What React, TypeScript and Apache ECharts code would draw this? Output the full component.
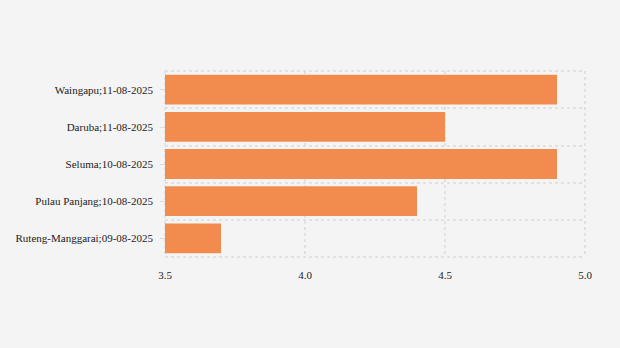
import React, { useEffect, useRef } from "react";
import * as echarts from "echarts";

const categories = [
  "Ruteng-Manggarai;09-08-2025",
  "Pulau Panjang;10-08-2025",
  "Seluma;10-08-2025",
  "Daruba;11-08-2025",
  "Waingapu;11-08-2025",
];
const values = [3.7, 4.4, 4.9, 4.5, 4.9];

const FONT = "'Liberation Serif', 'Times New Roman', 'DejaVu Serif', serif";

export default function App() {
  const ref = useRef<HTMLDivElement>(null);
  useEffect(() => {
    document.body.style.margin = "0";
    const chart = echarts.init(ref.current!, null, { renderer: "svg" });
    const split = { show: true, lineStyle: { color: "#dcdcdc", type: [3, 3], width: 1.5 } };
    chart.setOption({
      animation: false,
      backgroundColor: "#f4f4f4",
      textStyle: { fontFamily: FONT },
      grid: { left: 165, right: 35, top: 71, bottom: 91 },
      xAxis: {
        type: "value",
        min: 3.5,
        max: 5.0,
        interval: 0.5,
        axisLine: { show: false },
        axisTick: { show: false },
        axisLabel: {
          color: "#222",
          fontSize: 11,
          fontFamily: FONT,
          margin: 12,
          formatter: (v: number) => v.toFixed(1),
        },
        splitLine: split,
      },
      yAxis: {
        type: "category",
        data: categories,
        axisLine: { show: false },
        axisTick: { show: true, alignWithLabel: true, length: 5, lineStyle: { color: "#dcdcdc" } },
        axisLabel: { color: "#222", fontSize: 11, fontFamily: FONT, margin: 12 },
        splitLine: split,
      },
      series: [
        {
          type: "bar",
          data: values,
          barCategoryGap: "20%",
          itemStyle: { color: "#f28b4e" },
        },
      ],
    });
    return () => chart.dispose();
  }, []);
  return <div ref={ref} style={{ width: 620, height: 348 }} />;
}
